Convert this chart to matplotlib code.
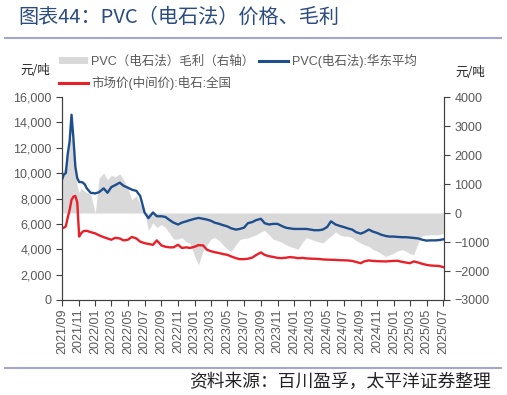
import pandas as pd
import matplotlib
matplotlib.use("Agg")
import matplotlib.pyplot as plt
import matplotlib.dates as mdates
from matplotlib.ticker import FuncFormatter, MultipleLocator
from matplotlib.patches import Patch
from matplotlib.lines import Line2D

plt.rcParams['font.family'] = ['Liberation Sans', 'Noto Sans CJK SC', 'DejaVu Sans']
plt.rcParams['axes.unicode_minus'] = True

# dates: weekly through the Oct-2021 spike, then twice a month
dates_weekly = pd.date_range('2021-09-01', periods=13, freq='7D')
dates_semi = pd.date_range('2021-12-01', '2025-07-01', freq='SMS')
dates = dates_weekly.append(dates_semi)

# PVC(电石法):华东平均, 元/吨
pvc_east = [9500, 9900, 10000, 11500, 12500, 14600, 12700, 10500, 9600, 9300, 9300, 9250, 9100,
            8800, 8450, 8400, 8500, 8800, 8450, 8900, 9050, 9250, 9000, 8850, 8700, 8600, 8200,
            6900, 6450, 6900, 6600, 6600, 6550, 6300, 6100, 5950, 6100, 6200, 6300, 6400, 6470,
            6400, 6340, 6250, 6100, 6000, 5900, 5800, 5650, 5550, 5600, 5700, 6050, 6150,
            6300, 6400, 6050, 5950, 6000, 6000, 5850, 5700, 5650, 5600, 5600, 5600, 5600, 5550,
            5500, 5500, 5550, 5750, 6200, 5950, 5850, 5750, 5650, 5550, 5350, 5230, 5350, 5550,
            5400, 5280, 5150, 5050, 5000, 5000, 4970, 4950, 4950, 4920, 4890, 4850, 4750, 4680,
            4700, 4700, 4720, 4780]

# 市场价(中间价):电石:全国, 元/吨
carbide = [5650, 5700, 5800, 6500, 7100, 7900, 8150, 8200, 7700, 5000, 5250, 5400, 5450,
           5450, 5350, 5250, 5100, 4950, 4850, 4750, 4900, 4850, 4700, 4750, 4970, 4850, 4600,
           4480, 4420, 4350, 4700, 4300, 4200, 4150, 4150, 4350, 4100, 4150, 4100, 4200, 4330,
           4300, 3960, 3850, 3770, 3700, 3620, 3560, 3430, 3300, 3220, 3220, 3250, 3350,
           3550, 3750, 3550, 3450, 3400, 3320, 3300, 3330, 3380, 3350, 3300, 3320, 3280, 3260,
           3250, 3230, 3200, 3180, 3170, 3160, 3140, 3130, 3120, 3080, 3000, 2900, 3050, 3120,
           3080, 3060, 3050, 3040, 3060, 3080, 3090, 3000, 2950, 2900, 3040, 2950, 2850, 2770,
           2720, 2700, 2680, 2600]

# PVC(电石法)毛利, 元/吨 (右轴)
margin = [1400, 1500, 1700, 2000, 2300, 2650, 2300, 1400, 900, 700, 850, 800, 750,
          700, 650, 0, 1200, 1380, 1150, 1300, 1250, 1350, 1150, 850, 450, 600, 300,
          50, -600, -340, -500, -400, -500, -700, -900, -900, -850, -1000, -1050, -1500, -1780,
          -1300, -1100, -900, -850, -950, -1100, -1250, -1320, -1100, -920, -880, -860, -800,
          -750, -650, -600, -750, -900, -950, -1000, -1090, -1150, -1200, -1250, -1000, -850, -900,
          -950, -1000, -1030, -900, -800, -650, -750, -800, -800, -850, -950, -1035, -1100, -1150,
          -1250, -1320, -1400, -1500, -1450, -1380, -1300, -1265, -1320, -1400, -1440, -1000, -780, -760,
          -750, -750, -750, -700]

W, H = 507, 395
fig = plt.figure(figsize=(W / 100, H / 100), dpi=100)
ax = fig.add_axes([62 / W, 1 - 300 / H, (444 - 62) / W, 203 / H])
ax2 = ax.twinx()

blue = '#1F4E8C'
red = '#E8202A'
gray = '#D9D9D9'
tick_c = '#595959'
spine_c = '#404040'

ax2.fill_between(dates, 0, margin, color=gray, lw=0)
ax.set_zorder(ax2.get_zorder() + 1)
ax.patch.set_visible(False)
ax.plot(dates, pvc_east, color=blue, lw=1.7)
ax.plot(dates, carbide, color=red, lw=1.7)

ax.set_ylim(0, 16000)
ax.yaxis.set_major_locator(MultipleLocator(2000))
ax.yaxis.set_major_formatter(FuncFormatter(lambda v, p: f'{int(v):,}'))
ax2.set_ylim(-3000, 4000)
ax2.yaxis.set_major_locator(MultipleLocator(1000))
ax2.yaxis.set_major_formatter(FuncFormatter(lambda v, p: f'{int(v)}'.replace('-', '\u2212')))

ax.set_xlim(dates[0], pd.Timestamp('2025-07-04'))
ax.xaxis.set_major_locator(mdates.MonthLocator(bymonth=[1, 3, 5, 7, 9, 11]))
ax.xaxis.set_major_formatter(mdates.DateFormatter('%Y/%m'))

for a in (ax, ax2):
    a.spines['top'].set_visible(False)
    for s in ('left', 'right', 'bottom'):
        a.spines[s].set_color(spine_c)
    a.tick_params(colors=spine_c, labelcolor=tick_c, labelsize=9, length=4, width=0.8)
ax.tick_params(axis='x', rotation=90, pad=2)

# header / footer
fig.text(18 / W, 1 - 17 / H, '图表44：PVC（电石法）价格、毛利', fontsize=14.5, color='#2B4C7E',
         family=['Noto Sans CJK SC'], va='center', ha='left')
fig.add_artist(Line2D([5 / W, 501 / W], [1 - 38 / H] * 2, color='#A3A6CF', lw=1.5))
fig.add_artist(Line2D([5 / W, 501 / W], [1 - 368 / H] * 2, color='#A3A6CF', lw=1.5))
fig.text(491 / W, 1 - 382 / H, '资料来源：百川盈孚，太平洋证券整理', fontsize=12.8, color='#222222',
         family=['Noto Sans CJK SC'], va='center', ha='right')

fig.text(35 / W, 1 - 70 / H, '元/吨', fontsize=9, color='#222222',
         family=['Noto Sans CJK SC'], va='center', ha='center')
fig.text(470 / W, 1 - 73 / H, '元/吨', fontsize=9, color='#222222',
         family=['Noto Sans CJK SC'], va='center', ha='center')

handles = [Patch(facecolor=gray, edgecolor='none'),
           Line2D([], [], color=red, lw=2.2),
           Line2D([], [], color=blue, lw=2.2)]
labels = ['PVC（电石法）毛利（右轴）', '市场价(中间价):电石:全国', 'PVC(电石法):华东平均']
leg = fig.legend(handles, labels, loc='upper left', bbox_to_anchor=(59 / W, 1 - 54 / H),
                 ncol=2, frameon=False, fontsize=9, handlelength=2.3, handleheight=0.5,
                 columnspacing=0.35, handletextpad=0.3, labelspacing=0.62,
                 borderaxespad=0, borderpad=0)
for t in leg.get_texts():
    t.set_color('#595959')

fig.savefig('out.png', dpi=100)
